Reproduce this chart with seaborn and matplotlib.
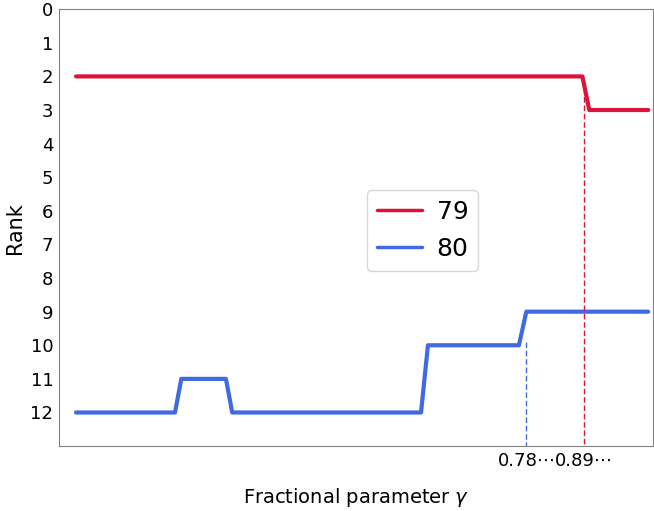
import matplotlib
matplotlib.use("Agg")
import matplotlib.pyplot as plt
import seaborn as sns
import pandas as pd

# Rank vs fractional parameter (corner points)
gamma_79 = [0.0, 0.885, 0.897, 1.0]
rank_79 = [2, 2, 3, 3]
gamma_80 = [0.0, 0.173, 0.184, 0.262, 0.273, 0.603, 0.615, 0.774, 0.787, 1.0]
rank_80 = [12, 12, 11, 11, 12, 12, 10, 10, 9, 9]

# switch points marked with dashed lines
switch_80 = 0.787
switch_80_rank = 9.9
switch_79 = 0.888
switch_79_rank = 2.1
tick_labels = ["0.78⋯", "0.89⋯"]

df = pd.concat([
    pd.DataFrame({"gamma": gamma_79, "rank": rank_79, "id": "79"}),
    pd.DataFrame({"gamma": gamma_80, "rank": rank_80, "id": "80"}),
])

sns.set_style("white")
plt.rcParams['font.family'] = ['DejaVu Sans']
plt.rcParams['text.color'] = 'black'
plt.rcParams['xtick.color'] = 'black'
plt.rcParams['ytick.color'] = 'black'
plt.rcParams['axes.labelcolor'] = 'black'

fig, ax = plt.subplots(figsize=(6.54, 5.11), dpi=100)

sns.lineplot(data=df, x="gamma", y="rank", hue="id", sort=False,
             palette={"79": "crimson", "80": "royalblue"},
             linewidth=3, ax=ax)

ax.vlines(switch_80, switch_80_rank, 13, colors="royalblue",
          linestyles=(0, (4, 2)), linewidth=1)
ax.vlines(switch_79, switch_79_rank, 13, colors="crimson",
          linestyles=(0, (4, 2)), linewidth=1)

ax.set_xlim(-0.03, 1.009)
ax.set_ylim(13, 0)
ax.set_yticks(range(0, 13))
ax.set_xticks([switch_80, switch_79])
ax.set_xticklabels(tick_labels)
ax.tick_params(labelsize=13, length=0, pad=4)

ax.set_xlabel("Fractional parameter $\\gamma$", fontsize=14, labelpad=12)
ax.set_ylabel("Rank", fontsize=15)

for s in ax.spines.values():
    s.set_color("gray")

leg = ax.legend(loc="center left", bbox_to_anchor=(0.505, 0.494), fontsize=18,
                frameon=True, handlelength=1.8, handletextpad=0.6,
                borderaxespad=0.3)
for line in leg.get_lines():
    line.set_linewidth(2.5)

plt.subplots_adjust(left=0.09, right=0.999, top=0.982, bottom=0.127)
plt.savefig("out.png", dpi=100)
